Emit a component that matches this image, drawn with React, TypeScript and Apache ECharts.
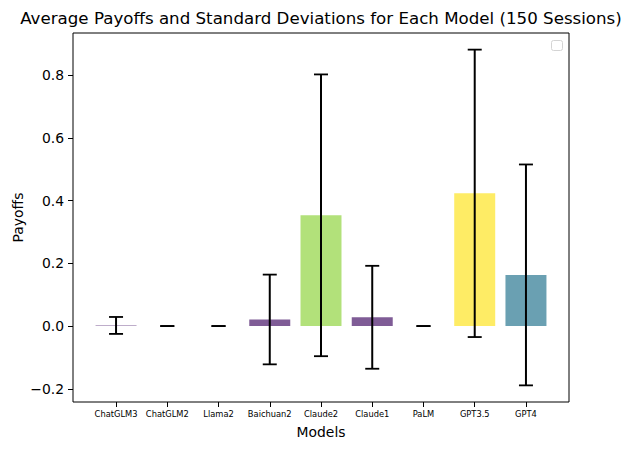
import React, { useEffect, useRef } from "react";
import * as echarts from "echarts";

const categories = ["ChatGLM3", "ChatGLM2", "Llama2", "Baichuan2", "Claude2", "Claude1", "PaLM", "GPT3.5", "GPT4"];
const means = [0.002, 0, 0, 0.021, 0.353, 0.028, 0, 0.423, 0.163];
const stds = [0.027, 0, 0, 0.143, 0.449, 0.164, 0, 0.458, 0.352];
const barColors = ["#7f5c96", "#7c4d87", "#7c4d87", "#7f5c96", "#b2e17a", "#7f5c96", "#7c4d87", "#feec65", "#6aa0b2"];
const yTicks = [-0.2, 0, 0.2, 0.4, 0.6, 0.8];
const xTicks = [0, 1, 2, 3, 4, 5, 6, 7, 8];

const FONT = "DejaVu Sans";

export default function App() {
  const ref = useRef<HTMLDivElement>(null);
  useEffect(() => {
    document.body.style.margin = "0";
    const chart = echarts.init(ref.current!, null, { renderer: "svg" });
    const data = categories.map((_, i) => [i, means[i], stds[i]]);
    const L = 73, R = 569, T = 33, B = 402;
    chart.setOption({
      animation: false,
      grid: {
        left: L, right: 630 - R, top: T, bottom: 450 - B,
        show: true, borderColor: "#000", borderWidth: 1, backgroundColor: "transparent",
      },
      xAxis: {
        type: "value", min: -0.84, max: 8.84,
        splitLine: { show: false },
        axisLine: { show: false, onZero: false },
        axisTick: { show: true, customValues: xTicks, length: 5, inside: false, lineStyle: { color: "#000", width: 1 } },
        axisLabel: {
          customValues: xTicks, margin: 8, fontSize: 8.3, fontFamily: FONT, color: "#000",
          formatter: (v: number) => categories[Math.round(v)] ?? "",
        },
      },
      yAxis: {
        type: "value", min: -0.242, max: 0.934,
        splitLine: { show: false },
        axisLine: { show: false, onZero: false },
        axisTick: { show: true, customValues: yTicks, length: 5, inside: false, lineStyle: { color: "#000", width: 1 } },
        axisLabel: {
          customValues: yTicks, margin: 9, fontSize: 13.9, fontFamily: FONT, color: "#000",
          formatter: (v: number) => (v < 0 ? "\u2212" + Math.abs(v).toFixed(1) : v.toFixed(1)),
        },
      },
      series: [
        {
          type: "custom",
          data,
          encode: { x: 0, y: 1 },
          renderItem: (params: any, api: any) => {
            const x = api.value(0), y = api.value(1);
            const p0 = api.coord([x - 0.4, 0]);
            const p1 = api.coord([x + 0.4, y]);
            return {
              type: "rect",
              shape: { x: p0[0], y: Math.min(p0[1], p1[1]), width: p1[0] - p0[0], height: Math.max(Math.abs(p1[1] - p0[1]), 0.01) },
              style: { fill: barColors[params.dataIndex] },
            };
          },
          z: 2,
        },
        {
          type: "custom",
          data,
          encode: { x: 0, y: 1 },
          renderItem: (params: any, api: any) => {
            const x = api.value(0), y = api.value(1), s = api.value(2);
            const top = api.coord([x, y + s]);
            const bot = api.coord([x, y - s]);
            const hw = 7;
            return {
              type: "group",
              children: [
                { type: "line", shape: { x1: top[0], y1: top[1], x2: bot[0], y2: bot[1] }, style: { stroke: "#000", lineWidth: 2 } },
                { type: "line", shape: { x1: top[0] - hw, y1: top[1], x2: top[0] + hw, y2: top[1] }, style: { stroke: "#000", lineWidth: 1.8 } },
                { type: "line", shape: { x1: bot[0] - hw, y1: bot[1], x2: bot[0] + hw, y2: bot[1] }, style: { stroke: "#000", lineWidth: 1.8 } },
              ],
            };
          },
          z: 3,
        },
      ],
      graphic: [
        {
          type: "text", x: (L + R) / 2, y: 18,
          style: { text: "Average Payoffs and Standard Deviations for Each Model (150 Sessions)", font: `16.67px "${FONT}"`, fill: "#000", textAlign: "center", textVerticalAlign: "middle" },
        },
        {
          type: "text", x: (L + R) / 2, y: 432,
          style: { text: "Models", font: `13.9px "${FONT}"`, fill: "#000", textAlign: "center", textVerticalAlign: "middle" },
        },
        {
          type: "text", x: 17.5, y: (T + B) / 2, rotation: Math.PI / 2,
          style: { text: "Payoffs", font: `13.9px "${FONT}"`, fill: "#000", textAlign: "center", textVerticalAlign: "middle" },
        },
        {
          type: "rect", shape: { x: 551.5, y: 40.5, width: 11, height: 10, r: 2 },
          style: { fill: "#fff", stroke: "#d4d4d4", lineWidth: 1 },
        },
      ],
    });
    return () => chart.dispose();
  }, []);
  return <div ref={ref} style={{ width: 630, height: 450, position: "absolute", left: 0, top: 0 }} />;
}
